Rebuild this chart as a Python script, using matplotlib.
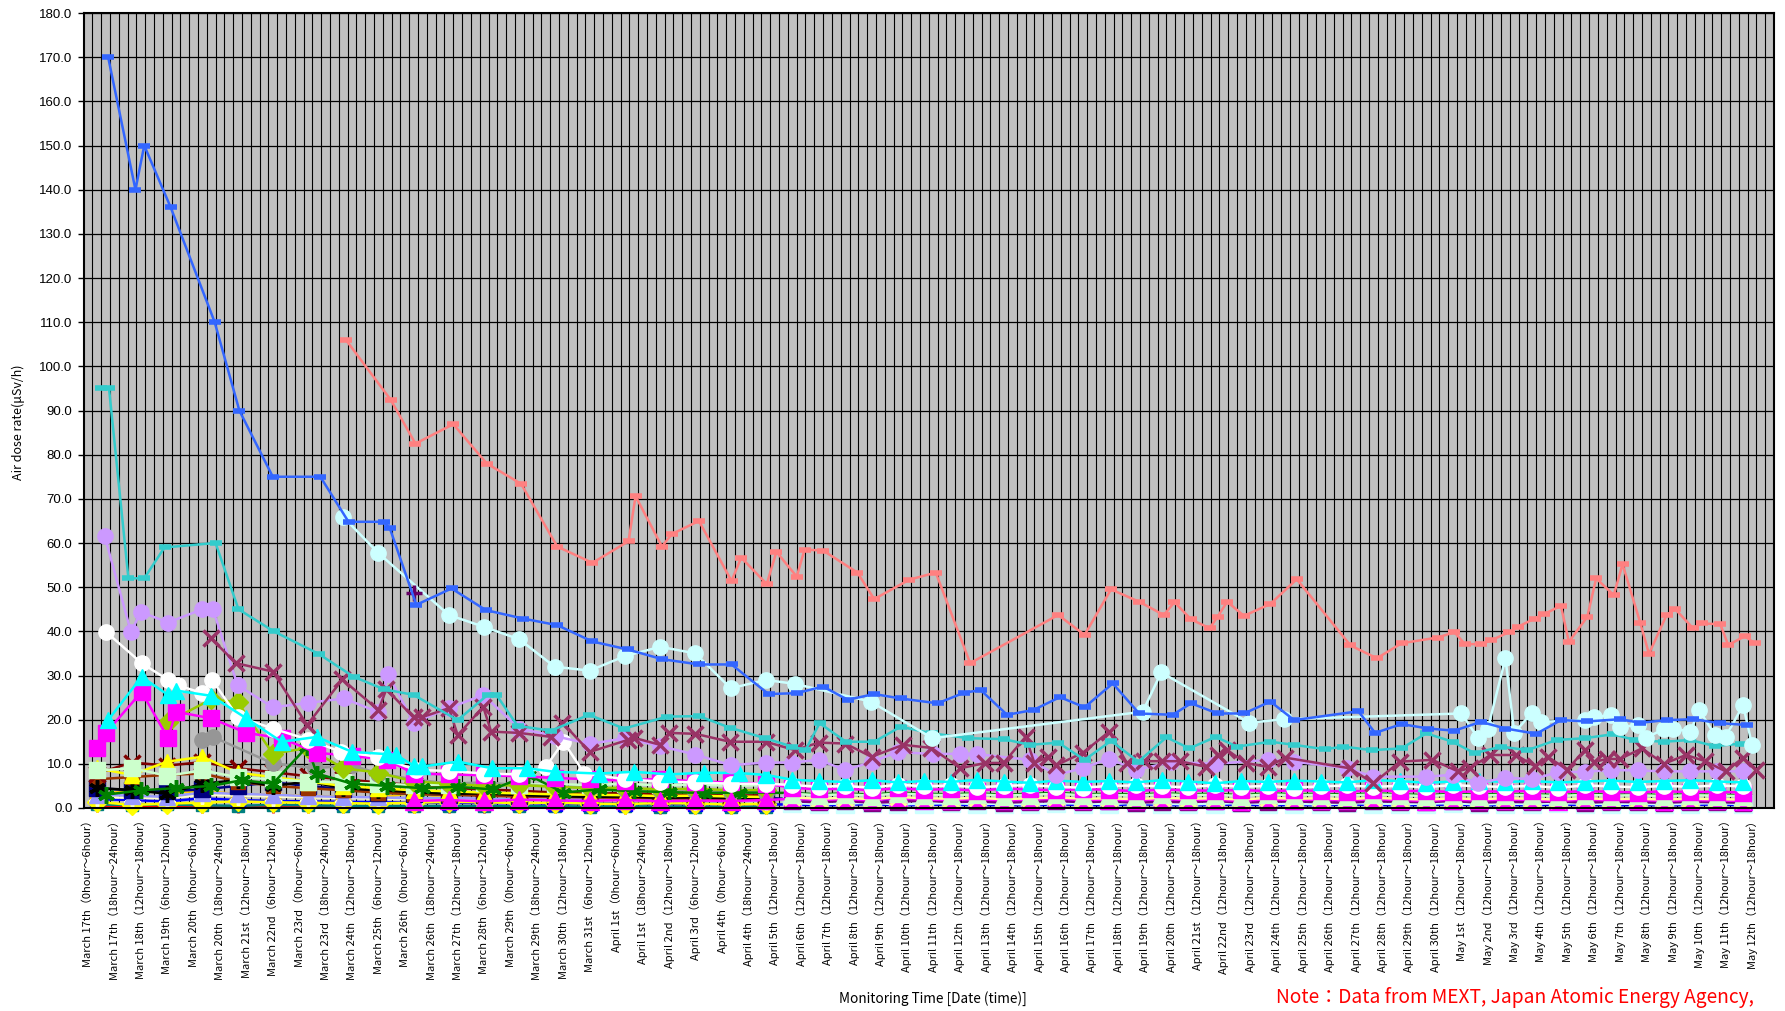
import matplotlib
matplotlib.use("Agg")
import matplotlib.pyplot as plt
import numpy as np

# ---- categories / tick labels ----
n_cat = 192
label_dates = ["March 17th", "March 17th", "March 18th", "March 19th", "March 20th", "March 20th",
               "March 21st", "March 22nd", "March 23rd", "March 23rd", "March 24th", "March 25th",
               "March 26th", "March 26th", "March 27th", "March 28th", "March 29th", "March 29th",
               "March 30th", "March 31st", "April 1st", "April 1st", "April 2nd", "April 3rd",
               "April 4th", "April 4th", "April 5th", "April 6th", "April 7th", "April 8th",
               "April 9th", "April 10th", "April 11th", "April 12th", "April 13th", "April 14th",
               "April 15th", "April 16th", "April 17th", "April 18th", "April 19th", "April 20th",
               "April 21st", "April 22nd", "April 23rd", "April 24th", "April 25th", "April 26th",
               "April 27th", "April 28th", "April 29th", "April 30th", "May 1st", "May 2nd",
               "May 3rd", "May 4th", "May 5th", "May 6th", "May 7th", "May 8th", "May 9th",
               "May 10th", "May 11th", "May 12th"]
label_hours = (["0hour～6hour", "18hour～24hour", "12hour～18hour", "6hour～12hour"] * 6
               + ["0hour～6hour", "18hour～24hour"] + ["12hour～18hour"] * 38)
tick_labels = [d + "（" + h + "）" for d, h in zip(label_dates, label_hours)]

early_idx = [1, 5, 9, 13, 17, 21, 25, 29, 33, 37, 41, 45, 49, 53, 57, 61, 65, 69, 73, 77]
late_idx = list(range(80, 190, 3))

# ---- main series (category position, value) ----
blue_x = [2.3, 5.4, 6.4, 9.4, 14.4, 17.2, 21.0, 26.4, 29.6, 33.6, 34.3, 37.3, 41.3, 45.2, 49.4,
          53.3, 57.3, 61.3, 65.2, 69.4, 73.1, 77.3, 80.5, 83.5, 86.3, 89.3, 92.3, 96.5, 99.5,
          101.4, 104.4, 107.4, 110.4, 113.2, 116.4, 119.4, 123.2, 125.3, 128.3, 131.3, 134.3,
          137.0, 144.3, 146.2, 149.2, 152.2, 155.2, 158.2, 161.0, 164.5, 167.3, 170.3, 174.0,
          176.3, 179.3, 182.3, 185.4, 188.4]
blue_y = [170, 140, 150, 136, 110, 90, 75, 75, 64.8, 64.8, 63.3, 46, 49.7, 44.8, 42.9, 41.4, 37.7,
          35.9, 33.7, 32.5, 32.5, 25.8, 26, 27.5, 24.5, 25.8, 24.8, 23.7, 26.1, 26.7, 21.1, 22.2,
          25.1, 22.8, 28.2, 21.4, 21.1, 23.7, 21.4, 21.4, 24.1, 19.9, 21.9, 17, 19, 18, 17.5,
          19.5, 18, 16.8, 19.9, 19.6, 20.1, 19.3, 19.9, 20.1, 19.2, 18.8]

salmon_x = [29.3, 34.4, 37.2, 41.5, 45.3, 49.2, 53.3, 57.3, 61.4, 62.2, 65.2, 66.3, 69.4, 73.1,
            74.2, 77.1, 78.2, 80.5, 81.4, 83.5, 87.4, 89.3, 93.3, 96.3, 100.2, 110.2, 113.2,
            116.2, 119.4, 122.2, 123.4, 125.3, 127.4, 128.3, 129.4, 131.3, 134.3, 137.3, 143.4,
            146.4, 149.2, 153.3, 155.2, 156.4, 158.2, 159.4, 161.4, 162.4, 164.3, 165.4, 167.3,
            168.2, 170.3, 171.3, 173.3, 174.3, 176.3, 177.3, 179.3, 180.3, 182.3, 183.3, 185.4,
            186.3, 188.2, 189.3]
salmon_y = [106, 92.4, 82.5, 86.9, 78, 73.4, 59.2, 55.5, 60.4, 70.6, 59.2, 62, 65, 51.4, 56.7,
            50.7, 58, 52.4, 58.5, 58.3, 53.3, 47.3, 51.7, 53.3, 32.8, 43.7, 39.2, 49.5, 46.7,
            43.7, 46.6, 42.7, 40.7, 43.3, 46.7, 43.5, 46.2, 51.8, 36.8, 33.9, 37.3, 38.6, 39.8,
            37.1, 37.1, 38, 39.8, 41, 42.9, 43.9, 45.8, 37.6, 43.3, 52, 48.2, 55.2, 42, 34.9,
            43.7, 45, 40.7, 41.8, 41.6, 36.9, 38.9, 37.3]

teal_x = [1.5, 2.4, 4.6, 6.4, 8.7, 14.5, 17.1, 21.1, 26.2, 30.2, 33.6, 37.0, 42.0, 45.4, 46.4,
          48.8, 52.6, 56.9, 60.9, 65.8, 69.4, 72.9, 76.9, 80.0, 81.5, 83.1, 86.1, 89.3, 92.3,
          95.9, 100.0, 104.0, 107.0, 110.2, 113.2, 116.2, 119.3, 122.5, 125.1, 128.1, 130.5,
          134.3, 137.0, 140.5, 142.6, 145.8, 149.2, 152.0, 155.0, 157.5, 160.5, 163.5, 166.8,
          170.0, 173.2, 175.7, 179.0, 182.0, 184.8, 187.8, 189.0]
teal_y = [95, 95, 52, 52, 59, 60, 45, 40, 34.9, 29.7, 26.9, 25.6, 19.9, 25.6, 25.6, 18.6, 17.5,
          21.1, 18, 20.7, 20.8, 18.2, 15.8, 13.9, 13.1, 19.2, 15, 15, 18.4, 16.9, 15.8, 15.6,
          14.3, 14.8, 10.9, 15.2, 10.5, 16, 13.5, 16.1, 13.9, 15, 14.3, 13.3, 13.9, 13.1, 13.5,
          16.9, 15, 12.4, 13.9, 13.1, 15.4, 15.8, 16.7, 15.4, 15, 15.4, 14, 14.6, 14.3]

ltcyan_x = [29, 33, 41, 45, 49, 53, 57, 61, 65, 69, 73, 77, 80.3, 88.9, 95.9, 119.8, 121.9,
            131.9, 135.8, 156, 157.9, 159, 161, 162, 164, 165, 170, 171, 173, 174, 176, 177,
            179, 180, 182, 183, 184.8, 186, 188, 189]
ltcyan_y = [65.9, 57.7, 43.7, 41, 38.2, 32, 31.1, 34.4, 36.5, 35, 27.1, 29, 28.1, 24.1, 15.8,
            21.8, 30.7, 19.3, 20.1, 21.4, 15.8, 18, 33.9, 17, 21.6, 19.5, 19.9, 20.5, 21.1, 18.3,
            18.8, 15.8, 18, 18, 17.3, 22.2, 16.5, 16.1, 23.3, 14.3]

lav_x = [1.9, 4.9, 6.0, 9.1, 13.0, 14.2, 17.0, 21.0, 25.0, 29.1, 33.0, 34.1, 37.0, 41.0, 44.9,
         49.0, 53.0, 57.0, 61.0, 65.0, 69.0, 73.0, 77.0, 80.0, 83.0, 86.0, 89.0, 92.0, 96.0,
         99.0, 101.0, 107.0, 110.0, 113.0, 116.0, 119.0, 123.0, 128.0, 134.0, 137.0, 143.0,
         146.0, 152.0, 155.0, 157.9, 161.0, 164.0, 167.0, 170.0, 173.0, 176.0, 179.0, 182.0,
         185.0, 188.0]
lav_y = [61.6, 39.8, 44.4, 42, 45, 45, 27.8, 22.8, 23.8, 24.8, 21.7, 30.3, 19.3, 22.6, 25.6, 18,
         16.3, 14.5, 15.8, 14, 12.1, 9.7, 10.3, 10.3, 10.9, 8.6, 10.4, 12.7, 12.2, 12.3, 12.2,
         10.9, 7.5, 9, 11.2, 8.6, 10.4, 10, 10.9, 10.5, 9, 7.1, 7.1, 7.5, 5.6, 6.9, 6.5, 8.1,
         8.2, 8.6, 8.5, 8.3, 8.3, 8.3, 8.3]

maroon_x = [14.0, 16.8, 21.0, 24.9, 28.9, 33.0, 33.9, 37.0, 38.0, 41.0, 42.0, 44.9, 45.8, 49.0,
            52.6, 53.9, 57.0, 61.3, 62.0, 65.0, 66.0, 69.0, 72.9, 77.0, 80.3, 83.0, 86.0, 89.0,
            92.6, 95.8, 99.1, 101.9, 104.0, 106.5, 107.5, 109.0, 110.0, 113.0, 116.0, 118.0,
            120.0, 122.0, 124.0, 127.0, 128.3, 129.4, 131.5, 134.0, 136.0, 143.3, 146.0, 149.0,
            152.7, 155.6, 157.0, 159.3, 162.2, 164.4, 165.8, 168.0, 170.0, 171.0, 172.5, 174.0,
            176.5, 179.0, 181.5, 183.7, 186.0, 188.0, 189.5]
maroon_y = [38.4, 32.8, 30.9, 18.8, 29.1, 22.2, 26.9, 20.5, 20.6, 22.6, 16.5, 22.9, 17.3, 17,
            16.1, 19.3, 12.7, 15.4, 15.9, 14.3, 17, 16.8, 15, 15, 13.1, 14.8, 14.6, 11.6, 14.3,
            13.6, 9, 10.2, 10.2, 16.1, 10.2, 11.5, 9.7, 12.5, 17.3, 10.2, 10.6, 10.6, 10.6, 9.3,
            12, 13.1, 10.2, 9.3, 11.4, 9, 5.6, 10.5, 10.9, 8.3, 9.1, 12, 12, 9.4, 11.6, 8.7,
            13.1, 10.4, 11.1, 11.1, 13.5, 10, 12, 10.6, 8.3, 11.4, 8.6]

white_x = [2.1, 6.1, 9.1, 10.2, 13.0, 14.1, 17.0, 21.0, 25.0, 28.8, 33.0, 37.3, 41.0, 45.0,
           49.0, 52.0, 54.0, 56.4, 61, 65, 69, 73, 77] + late_idx
white_y = [39.8, 32.8, 29, 27.8, 26, 29, 20.7, 18, 15.5, 12.7, 11.6, 8.6, 8.4, 7.8, 7.6, 9.3, 15,
           7.8, 6.5, 6, 5.8, 5.5, 5.5,
           5.2, 4.8, 5.0, 4.6, 5.3, 4.9, 5.1, 4.7, 5.0, 5.2, 4.8, 4.6, 5.0, 5.1, 4.9, 4.7, 5.2,
           4.8, 5.0, 4.6, 4.9, 5.1, 4.8, 5.0, 4.7, 5.2, 4.9, 4.8, 5.0, 4.6, 5.1, 4.9, 4.7, 5.0,
           4.8, 5.1, 4.9]

cyan_x = [2.3, 6.1, 9.1, 10.0, 14.0, 18.0, 22.0, 26.0, 30.0, 34.0, 35.0, 37.0, 38.0, 42.0,
          45.9, 49.9, 53.0, 58.0, 62.0, 66.0, 70.0, 74.0, 77.0] + late_idx
cyan_y = [19.9, 29.7, 25.6, 26.6, 25.4, 20.3, 15, 16.1, 12.7, 12.2, 12, 9.6, 9.4, 10.5, 9, 9,
          8.2, 7.8, 8.2, 7.6, 8.0, 7.9, 7.5,
          6.4, 6.1, 5.9, 6.3, 5.8, 6.1, 5.9, 6.4, 6.0, 5.7, 6.2, 5.9, 6.1, 5.8, 6.3, 6.0, 5.6,
          6.1, 5.9, 6.2, 6.0, 5.8, 6.3, 6.1, 5.7, 6.0, 6.2, 5.9, 6.1, 5.8, 6.0, 6.2, 5.9, 6.1,
          6.3, 6.0, 5.8]

magenta_x = [1.0, 2.0, 6.1, 9.1, 10.0, 14.0, 18.0, 22.0, 26.0, 30.0, 34.0, 37.0, 41.0, 45.0,
             49.0, 53.0, 57.0, 61.0, 65.0, 69.0, 73.0, 77.0] + late_idx
magenta_y = [13.5, 16.9, 26.3, 15.8, 21.8, 20.3, 17, 15.8, 12.5, 11.8, 10.9, 7.8, 7.6, 7.4, 7.2,
             6.8, 6.5, 6.2, 6.6, 6.0, 5.8, 5.5,
             4.6, 4.2, 4.4, 4.0, 4.5, 4.1, 4.3, 3.9, 4.4, 4.2, 4.0, 4.3, 4.1, 3.8, 4.2, 4.0, 3.9,
             4.1, 3.8, 4.0, 3.9, 3.7, 4.0, 3.8, 3.9, 3.6, 3.8, 3.7, 3.9, 3.6, 3.8, 3.7, 3.5, 3.8,
             3.6, 3.7, 3.5]

# ---- low-level series ----
ygreen_x = [9.1, 14, 17, 21, 25, 29, 33, 37, 41, 45, 49, 53, 57, 61, 65, 69, 73, 77]
ygreen_y = [19.5, 24.6, 24, 12.3, 13.6, 9, 8, 6, 5.5, 5, 5.2, 4.8, 4.5, 4.6, 4.2, 4.4, 4, 4.1]
gray_x = [13, 14.2, 21, 25.8, 30, 33, 37, 41, 45, 49, 53, 57, 61, 65, 69, 73, 77]
gray_y = [15.4, 16.1, 10.1, 9, 9.7, 7.8, 6.5, 5.5, 5.8, 5.2, 4.9, 4.6, 4.4, 4.1, 3.9, 3.7, 3.5]
green_x = [2, 6, 10, 14, 17.5, 21, 24.9, 26, 30, 34, 38, 42, 46, 50, 54, 58, 62, 66, 70, 74] + late_idx
green_y = [3, 4, 4.5, 5, 6.3, 5.5, 13.9, 7.8, 5.5, 5, 4.5, 4.8, 4.2, 7.5, 3.5, 4.2, 3.8, 3.6,
           3.4, 3.5,
           3.4, 3.1, 3.3, 3.0, 3.5, 3.2, 3.1, 3.3, 3.0, 3.2, 3.4, 3.1, 3.2, 3.0, 3.3, 3.1, 3.2,
           2.9, 3.3, 3.1, 3.2, 3.0, 3.3, 3.1, 2.9, 3.2, 3.0, 3.2, 3.1, 2.9, 3.2, 3.0, 3.1, 2.9,
           3.1, 3.0, 2.9]
lgreen_sq_y = [8.5, 9.0, 7.3, 8.5, 7.0, 6.5, 6.0, 5.8, 5.5, 5.2, 5.2, 5.6, 5.3, 5.4, 5.2, 5.5,
               5.1, 5.3, 5.0, 5.2]
dred_y = [7.8, 10.3, 9.6, 10.4, 9.0, 8.1, 7.2, 6.5, 5.8, 5.2, 4.6, 4.2, 3.9, 3.5, 3.2, 3.4, 3.1,
          3.0, 2.8, 2.9]
black_y = [4.5, 4.1, 3.2, 5.5, 6.3, 5.0, 6.0, 4.5, 4.0, 3.6, 3.2, 3.3, 2.9, 2.7, 2.5, 2.6, 2.3,
           2.4, 2.2, 2.1]
ydiam_y = [1.4, 0.7, 1.0, 1.2, 1.5, 1.3, 1.2, 1.1, 1.0, 1.2, 1.4, 1.3, 1.1, 1.2, 1.0, 0.9, 1.1,
           1.0, 0.8, 0.9]
ytri_y = [9.0, 7.5, 10.5, 11.6, 8.0, 7.0, 6.0, 5.0, 4.5, 4.0, 3.8, 3.5, 3.3, 3.1, 3.0, 2.9, 2.7,
          2.8, 2.6, 2.5]
peri_y = [3.0, 2.8, 2.5, 3.5, 3.2, 3.0, 2.7, 2.5, 2.4, 2.2, 2.3, 2.1, 2.0, 1.9, 2.0, 1.8, 1.9,
          1.7, 1.8, 1.6]
lyel_y = [2.5, 2.3, 2.2, 3.0, 2.8, 2.6, 2.4, 2.3, 2.1, 2.0, 2.2, 2.0, 1.9, 1.8, 1.9, 1.7, 1.8,
          1.6, 1.7, 1.5]
navy_y = [4.5, 4.0, 3.8, 4.2, 5.0, 5.8, 5.0, 4.3, 3.5, 3.2, 3.0, 2.9, 2.8, 2.7, 2.6, 2.5, 2.5,
          2.4, 2.3, 2.3,
          2.0, 1.7, 1.9, 1.6, 2.1, 1.8, 1.7, 1.9, 1.6, 1.8, 2.0, 1.7, 1.8, 1.6, 1.9, 1.7, 1.8,
          1.5, 1.9, 1.7, 1.8, 1.6, 1.9, 1.7, 1.5, 1.8, 1.6, 1.8, 1.7, 1.5, 1.8, 1.6, 1.7, 1.5,
          1.7, 1.6, 1.5]
brown_y = [6.5, 7.0, 7.5, 7.8, 6.0, 5.0, 4.5, 4.0, 3.5, 3.2, 3.0, 2.8, 2.6, 2.5, 2.4, 2.3, 2.2,
           2.1, 2.0, 2.0]
gold_y = [3.0, 4.0, 3.5, 3.8, 3.2, 3.0, 2.8, 2.5, 2.3, 3.5, 2.2, 2.0, 2.0, 1.9, 1.8, 1.8, 1.7,
          1.7, 1.6, 1.6]
blue_low_y = [2.0, 1.8, 1.5, 2.2, 1.8, 1.6, 1.5, 1.4, 1.3, 1.2, 1.2, 1.1, 1.1, 1.0, 1.0, 1.0,
              0.9, 0.9, 0.9, 0.8,
              0.8, 0.6, 0.7, 0.9, 0.6, 0.7, 0.8, 0.6, 0.7, 0.6, 0.8, 0.7, 0.6, 0.9, 0.7, 0.6,
              0.7, 0.8, 0.6, 0.7, 0.6, 0.8, 0.7, 0.6, 0.7, 0.8, 0.6, 0.7, 0.6, 0.8, 0.7, 0.6,
              0.7, 0.6, 0.7, 0.8, 0.6]
red_y = [0.5, 0.4, 0.4, 0.3, 0.3, 0.3, 0.3, 0.2, 0.2, 0.2, 0.2, 0.2, 0.2, 0.2, 0.2, 0.1, 0.1,
         0.1, 0.1, 0.1]
dteal_y = [0.8, 0.7, 0.8, 0.6, 0.5, 0.7, 0.6, 0.5, 0.5, 0.4, 0.5, 0.4, 0.4, 0.4, 0.3, 0.4, 0.3,
           0.3, 0.3, 0.3]
mtri_x = [37, 41, 45, 49, 53, 57, 61, 65, 69, 73, 77] + late_idx
mtri_y = [1.6, 1.8, 1.5, 1.9, 1.7, 1.6, 1.8, 1.5, 1.7, 1.6, 1.8,
          2.1, 1.8, 2.0, 1.7, 2.2, 1.9, 1.8, 2.0, 1.7, 1.9, 2.1, 1.8, 1.9, 1.7, 2.0, 1.8, 1.9,
          1.6, 2.0, 1.8, 1.9, 1.7, 2.0, 1.8, 1.6, 1.9, 1.7, 1.9, 1.8, 1.6, 1.9, 1.7, 1.8, 1.6,
          1.8, 1.7, 1.6]
lgtri_y = [3.2, 2.9, 3.1, 2.8, 3.3, 3.0, 2.9, 3.1, 2.8, 3.0, 3.2, 2.9, 3.0, 2.8, 3.1, 2.9, 3.0,
           2.7, 3.1, 2.9, 3.0, 2.8, 3.1, 2.9, 2.7, 3.0, 2.8, 3.0, 2.9, 2.7, 3.0, 2.8, 2.9, 2.7,
           2.9, 2.8, 2.7]
lyx_y = [2.4, 2.1, 2.3, 2.0, 2.5, 2.2, 2.1, 2.3, 2.0, 2.2, 2.4, 2.1, 2.2, 2.0, 2.3, 2.1, 2.2,
         1.9, 2.3, 2.1, 2.2, 2.0, 2.3, 2.1, 1.9, 2.2, 2.0, 2.2, 2.1, 1.9, 2.2, 2.0, 2.1, 1.9,
         2.1, 2.0, 1.9]
lcsq_y = [1.1, 0.9, 1.0, 1.2, 0.8, 1.0, 1.1, 0.9, 1.0, 0.8, 1.1, 1.0, 0.9, 1.2, 1.0, 0.8, 1.0,
          1.1, 0.9, 1.0, 0.8, 1.1, 1.0, 0.9, 1.0, 1.1, 0.8, 1.0, 0.9, 1.1, 1.0, 0.9, 1.0, 0.8,
          1.0, 1.1, 0.9]
purple_y = [1.5, 1.3, 1.6, 1.2, 1.4, 1.7, 1.3, 1.5, 1.2, 1.4, 1.6, 1.3, 1.5, 1.2, 1.4, 1.3, 1.6,
            1.2, 1.4, 1.5, 1.3, 1.2, 1.5, 1.4, 1.3, 1.6, 1.2, 1.4, 1.3, 1.5, 1.2, 1.4, 1.3, 1.2,
            1.4, 1.3, 1.2]
plus_x = [37.0]
plus_y = [48.6]

asterisk = (6, 2, 0)
# x, y, colour, marker, marker size, edge width, zorder
series = [
    (early_idx, red_y, "#FF0000", "+", 8, 2, 2),
    (early_idx, dteal_y, "#008080", "s", 9, 1, 2),
    (early_idx + late_idx, blue_low_y, "#0000FF", "s", 10, 1, 2),
    (early_idx, ydiam_y, "#FFFF00", "D", 10, 1, 2),
    (early_idx, gold_y, "#FFCC00", "s", 10, 1, 2),
    (early_idx, lyel_y, "#FFFFCC", asterisk, 13, 2.5, 2),
    (early_idx, peri_y, "#9999FF", "^", 12, 1, 2),
    (early_idx + late_idx, navy_y, "#000080", "s", 11, 1, 2),
    (early_idx, brown_y, "#993300", "s", 10, 1, 2),
    (early_idx, black_y, "#000000", asterisk, 12, 2.5, 2),
    (early_idx, dred_y, "#800000", "x", 11, 2.5, 2),
    (early_idx, ytri_y, "#FFFF00", "^", 11, 1, 2),
    (early_idx, lgreen_sq_y, "#CCFFCC", "s", 11, 1, 2),
    (gray_x, gray_y, "#969696", "o", 11, 1, 2),
    (ygreen_x, ygreen_y, "#99CC00", "D", 10, 1, 2),
    (green_x, green_y, "#008000", asterisk, 12, 2.5, 2),
    (late_idx, lcsq_y, "#CCFFFF", "s", 13, 1, 2),
    (late_idx, purple_y, "#800080", "s", 11, 1, 2),
    (mtri_x, mtri_y, "#FF00FF", "^", 13, 1, 2),
    (late_idx, lyx_y, "#FFFF99", "x", 12, 2.5, 2),
    (late_idx, lgtri_y, "#CCFFCC", "^", 13, 1, 2),
    (magenta_x, magenta_y, "#FF00FF", "s", 11, 1, 3),
    (white_x, white_y, "#FFFFFF", "o", 11, 1, 3),
    (cyan_x, cyan_y, "#00FFFF", "^", 12, 1, 3),
    (lav_x, lav_y, "#CC99FF", "o", 11, 1, 3),
    (maroon_x, maroon_y, "#993366", "x", 11, 2.5, 3),
    (teal_x, teal_y, "#33CCCC", "_", 8, 4, 3),
    (ltcyan_x, ltcyan_y, "#CCFFFF", "o", 11, 1, 3),
    (plus_x, plus_y, "#660066", "+", 11, 2.5, 3),
    (blue_x, blue_y, "#3366FF", "_", 8, 4, 3),
    (salmon_x, salmon_y, "#FF8080", "_", 8, 4, 3),
]

fig = plt.figure(figsize=(17.85, 10.11), dpi=100)
ax = fig.add_axes([83.5 / 1785, 1 - 808 / 1011, (1774 - 83.5) / 1785, (808 - 13) / 1011])
ax.set_facecolor("#C0C0C0")

for xs, ys, col, mk, ms, mew, z in series:
    ax.plot(xs, ys, color=col, lw=1.8, marker=mk, markersize=ms, markerfacecolor=col,
            markeredgecolor=col, markeredgewidth=mew, zorder=z, clip_on=False)

# category boundaries and value grid
ax.vlines(np.arange(0.5, n_cat - 0.5, 1), 0, 180, colors="black", lw=0.8, zorder=1)
ax.set_yticks(np.arange(0, 181, 10))
ax.yaxis.grid(True, color="black", lw=0.9, zorder=1)
ax.set_axisbelow(True)

ax.set_xlim(-0.5, n_cat - 0.5)
ax.set_ylim(0, 180)
ax.set_yticklabels([f"{v:.1f}" for v in np.arange(0, 181, 10)], fontsize=9.5,
                   family="Liberation Sans")
ax.set_xticks(np.arange(0, n_cat, 3))
ax.set_xticklabels(tick_labels, rotation=90, fontsize=8, family=["Noto Sans CJK JP", "DejaVu Sans"])
ax.tick_params(axis="x", length=0, pad=5)
ax.tick_params(axis="y", length=4, width=1, pad=4)
for s in ax.spines.values():
    s.set_color("black")
    s.set_linewidth(1.5)
    s.set_zorder(4)

fig.text(18 / 1785, 1 - 422 / 1011, "Air dose rate(μSv/h)", rotation=90, ha="center",
         va="center", fontsize=9, family=["Noto Sans CJK JP", "DejaVu Sans"])
fig.text(933 / 1785, 1 - 999 / 1011, "Monitoring Time [Date (time)]", ha="center",
         va="center", fontsize=9.8, family=["Noto Sans CJK JP", "DejaVu Sans"])
fig.text(1276 / 1785, 1 - 998 / 1011, "Note：Data from MEXT, Japan Atomic Energy Agency,",
         ha="left", va="center", fontsize=13.8, color="#FF0000",
         family=["Noto Sans CJK JP", "DejaVu Sans"])

fig.savefig("out.png", dpi=100, facecolor="white")
